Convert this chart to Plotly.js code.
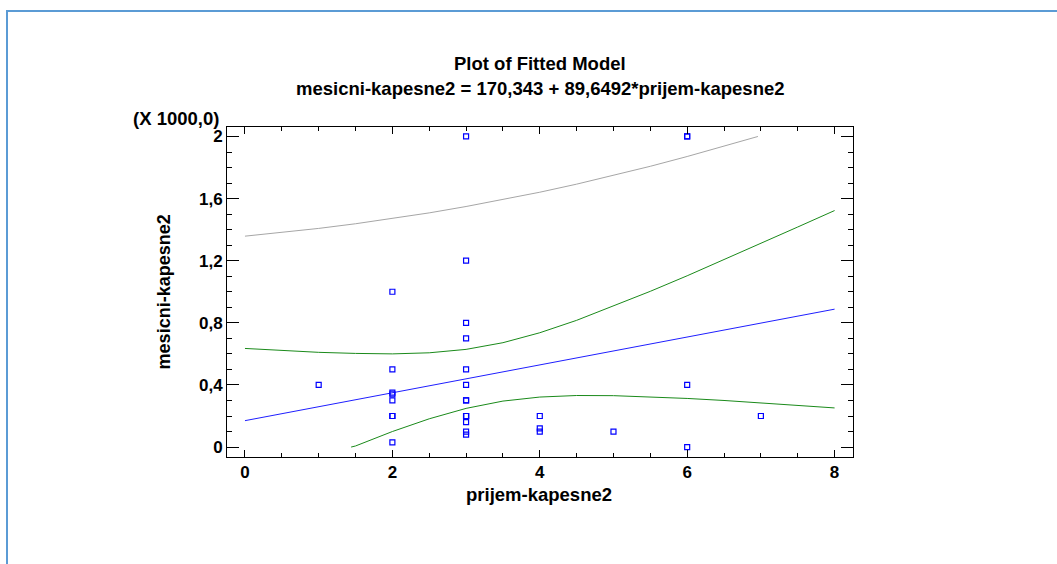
<!DOCTYPE html>
<html>
<head>
<meta charset="utf-8">
<script src="https://cdn.plot.ly/plotly-3.0.1.min.js"></script>
<style>
  html, body { margin: 0; padding: 0; background: #ffffff; }
  #wrap { position: relative; width: 1057px; height: 564px; overflow: hidden; }
  #chart { position: absolute; left: 0; top: 0; width: 1057px; height: 564px; }
  #frame { position: absolute; left: 6px; top: 10px; width: 1100px; height: 600px;
           border-left: 2px solid #5b9bd5; border-top: 2px solid #5b9bd5; pointer-events: none; }
</style>
</head>
<body>
<div id="wrap">
  <div id="chart"></div>
  <div id="frame"></div>
</div>
<script>
// Observations
const obsX = [1, 2,2,2,2,2,2,2,2, 3,3,3,3,3,3,3,3,3,3,3,3,3,3, 4,4,4, 5, 6,6,6,6, 7];
const obsY = [400, 1000,500,350,340,300,200,200,30, 2000,1200,800,700,500,400,300,300,200,200,200,160,100,80, 200,120,100, 100, 2000,2000,400,0, 200];

// Fitted line
const fitX = [0, 1, 2, 3, 4, 5, 6, 7, 8];
const fitY = [170, 260, 350, 439, 529, 619, 708, 798, 888];

// Confidence limits for mean (green)
const confUpperX = [0,0.5,1,1.5,2,2.5,3,3.5,4,4.5,5,5.5,6,6.5,7,7.5,8];
const confUpperY = [635,622,610,603,600,607,629,672,736,816,907,1003,1103,1206,1311,1417,1523];
const confLowerX = [1.44,1.5,2,2.5,3,3.5,4,4.5,5,5.5,6,6.5,7,7.5,8];
const confLowerY = [0,7,100,182,249,296,322,332,331,323,313,300,285,269,252];

// Upper prediction limit (gray)
const predUpperX = [0,0.5,1,1.5,2,2.5,3,3.5,4,4.5,5,5.5,6,6.5,6.96];
const predUpperY = [1358,1381,1408,1438,1471,1508,1549,1593,1641,1693,1749,1808,1871,1936,2000];

// Tick labels
const xTickVals = [0, 2, 4, 6, 8];
const yTickVals = [0, 400, 800, 1200, 1600, 2000];
const yTickText = ['0', '0,4', '0,8', '1,2', '1,6', '2'];

const FONT = 'Liberation Sans, Arial, sans-serif';

const traces = [
  { x: predUpperX, y: predUpperY, mode: 'lines', line: { color: '#a6a6a6', width: 1 }, hoverinfo: 'skip' },
  { x: confUpperX, y: confUpperY, mode: 'lines', line: { color: '#1a8a1a', width: 1 }, hoverinfo: 'skip' },
  { x: confLowerX, y: confLowerY, mode: 'lines', line: { color: '#1a8a1a', width: 1 }, hoverinfo: 'skip' },
  { x: fitX, y: fitY, mode: 'lines', line: { color: '#1f1fff', width: 1 }, hoverinfo: 'skip' },
  { x: obsX, y: obsY, mode: 'markers',
    marker: { symbol: 'square-open', size: 5, color: '#0000ff', line: { width: 1.2, color: '#0000ff' } } }
];

const axisCommon = {
  showgrid: false, zeroline: false, showline: true, linecolor: '#000000', linewidth: 1,
  mirror: 'ticks', ticks: 'inside', tickcolor: '#000000', tickwidth: 1,
  tickfont: { family: FONT, size: 17, color: '#000000', weight: 'bold' }
};

const layout = {
  width: 1057, height: 564,
  margin: { l: 227, r: 204, t: 127, b: 107, pad: 0 },
  paper_bgcolor: '#ffffff', plot_bgcolor: '#ffffff',
  showlegend: false,
  xaxis: Object.assign({}, axisCommon, {
    range: [-0.244, 8.25], tickvals: xTickVals, ticklen: 7,
    minor: { dtick: 0.5, ticks: 'inside', ticklen: 4, tickcolor: '#000000', tickwidth: 1 }
  }),
  yaxis: Object.assign({}, axisCommon, {
    range: [-64, 2061], tickvals: yTickVals, ticktext: yTickText, ticklen: 12,
    minor: { dtick: 100, ticks: 'inside', ticklen: 5, tickcolor: '#000000', tickwidth: 1 }
  }),
  annotations: [
    { text: 'Plot of Fitted Model', xref: 'paper', yref: 'paper', x: 0.5, y: 1.191,
      xanchor: 'center', yanchor: 'middle', showarrow: false,
      font: { family: FONT, size: 18.5, color: '#000000', weight: 'bold' } },
    { text: 'mesicni-kapesne2 = 170,343 + 89,6492*prijem-kapesne2', xref: 'paper', yref: 'paper', x: 0.5, y: 1.118,
      xanchor: 'center', yanchor: 'middle', showarrow: false,
      font: { family: FONT, size: 18.5, color: '#000000', weight: 'bold' } },
    { text: '(X 1000,0)', xref: 'paper', yref: 'paper', x: -0.0815, y: 1.027,
      xanchor: 'center', yanchor: 'middle', showarrow: false,
      font: { family: FONT, size: 18.5, color: '#000000', weight: 'bold' } },
    { text: 'prijem-kapesne2', xref: 'paper', yref: 'paper', x: 0.498, y: -0.115,
      xanchor: 'center', yanchor: 'middle', showarrow: false,
      font: { family: FONT, size: 18.5, color: '#000000', weight: 'bold' } },
    { text: 'mesicni-kapesne2', xref: 'paper', yref: 'paper', x: -0.1, y: 0.5, textangle: -90,
      xanchor: 'center', yanchor: 'middle', showarrow: false,
      font: { family: FONT, size: 18, color: '#000000', weight: 'bold' } }
  ]
};

Plotly.newPlot('chart', traces, layout, { displayModeBar: false, staticPlot: true });
</script>
</body>
</html>
